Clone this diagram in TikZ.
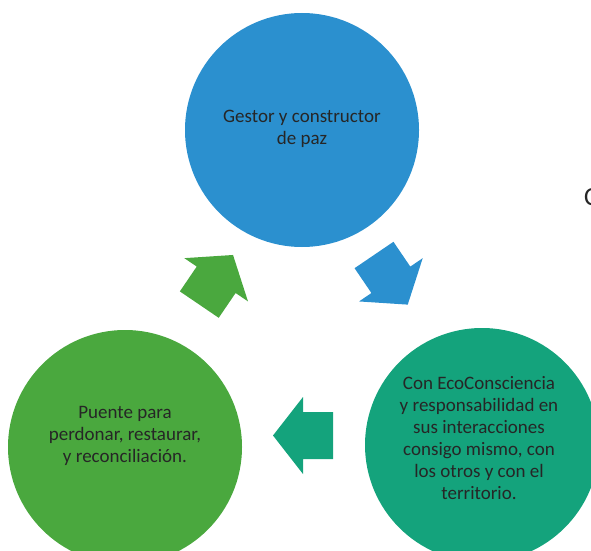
\documentclass[tikz,border=0pt]{standalone}
\usepackage{fontspec}
\setmainfont{Carlito}
\usetikzlibrary{calc}
\definecolor{gestorblue}{RGB}{43,144,207}
\definecolor{puentegreen}{RGB}{74,168,62}
\definecolor{ecoteal}{RGB}{20,163,124}

\begin{document}
\begin{tikzpicture}[x=1pt,y=1pt,
			bubble/.style={circle,minimum size=234pt,inner sep=0pt},
			txt/.style={align=center,text=black!85,font=\fontsize{19}{22}\selectfont},
			blockarrow/.style={draw=none}
			]
			\useasboundingbox (0,0) rectangle (591,550);
			
			%% Circles
			\node[bubble,fill=gestorblue] (gestor) at (302,420) {};
			\node[bubble,fill=ecoteal] (eco) at (482,105) {};
			\node[bubble,fill=puentegreen] (puente) at (125,103) {};
			
			\node[txt] (gestortext) at ($(gestor)+(0,1)$) {Gestor y constructor\\de paz};
			\node[txt] (ecotext) at ($(eco)+(-3,7)$) {Con EcoConsciencia\\y responsabilidad en\\sus interacciones\\consigo mismo, con\\los otros y con el\\territorio.};
			\node[txt] (puentetext) at ($(puente)+(0,11)$) {Puente para\\perdonar, restaurar,\\y reconciliación.};
			
			%% Arrows
			\coordinate (gestor-eco) at (374,295);
			\coordinate (eco-puente) at (333,114.5);
			\coordinate (puente-gestor) at (199.3,245.4);
			
			\fill[blockarrow,gestorblue,shift={(gestor-eco)},rotate=-55.8] (0,-23.5) -- ++(30,0) -- ++(0,-15) -- ++(30,38.5) -- ++(-30,38.5) -- ++(0,-15) -- ++(-30,0) -- cycle;
			\fill[blockarrow,ecoteal,shift={(eco-puente)},rotate=180] (0,-23.5) -- ++(30,0) -- ++(0,-15) -- ++(30,38.5) -- ++(-30,38.5) -- ++(0,-15) -- ++(-30,0) -- cycle;
			\fill[blockarrow,puentegreen,shift={(puente-gestor)},rotate=55.8] (0,-23.5) -- ++(30,0) -- ++(0,-15) -- ++(30,38.5) -- ++(-30,38.5) -- ++(0,-15) -- ++(-30,0) -- cycle;
			
			%% cut letter at the edge
			\node[anchor=base west,inner sep=0pt,text=black!85,font=\fontsize{26}{30}\selectfont] (edgeletter) at (584,345) {C};
			
\end{tikzpicture}
\end{document}
